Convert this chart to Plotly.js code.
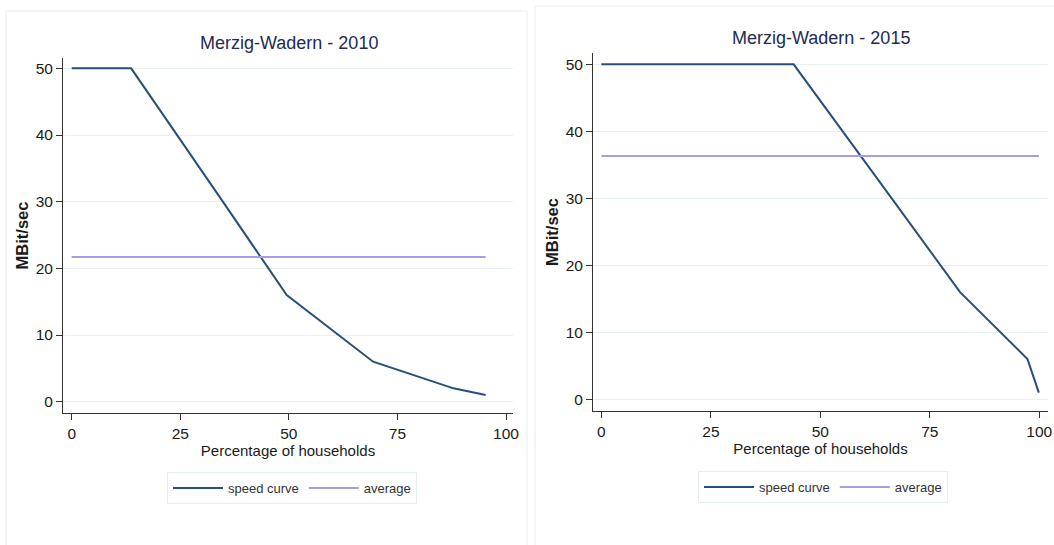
<!DOCTYPE html>
<html>
<head>
<meta charset="utf-8">
<script src="https://cdn.plot.ly/plotly-3.0.1.min.js"></script>
<style>
  html, body { margin: 0; padding: 0; background: #ffffff; }
  #chart { width: 1054px; height: 545px; }
</style>
</head>
<body>
<div id="chart"></div>
<script>
// Share of households (%) reaching at least the given download speed
const speedLevels = [50, 50, 30, 16, 6, 2, 1];

const pct2010 = [0, 13.7, 34.8, 49.5, 69.4, 87.9, 95.3];
const avg2010 = 21.7;

const pct2015 = [0, 43.9, 66.3, 81.9, 97.3, 99.5, 99.9];
const avg2015 = 36.3;

const xTicks = [0, 25, 50, 75, 100];
const yTicks = [0, 10, 20, 30, 40, 50];

const W = 1054, H = 545;
const px = v => v / W;
const py = v => 1 - v / H;

const curveColor = '#284f7a';
const avgColor = '#a69ee3';
const gridColor = '#e6eff2';
const sans = '"Liberation Sans", Arial, sans-serif';

function curveTrace(x, y, xa, ya, legend) {
  return {
    x: x, y: y, xaxis: xa, yaxis: ya, type: 'scatter', mode: 'lines',
    name: 'speed curve', legend: legend, showlegend: true,
    line: { color: curveColor, width: 2 }, hoverinfo: 'x+y'
  };
}
function avgTrace(x, avg, xa, ya, legend) {
  return {
    x: [x[0], x[x.length - 1]], y: [avg, avg], xaxis: xa, yaxis: ya,
    type: 'scatter', mode: 'lines', name: 'average', legend: legend,
    showlegend: true, line: { color: avgColor, width: 2 }, hoverinfo: 'y'
  };
}

const data = [
  curveTrace(pct2010, speedLevels, 'x', 'y', 'legend'),
  avgTrace(pct2010, avg2010, 'x', 'y', 'legend'),
  curveTrace(pct2015, speedLevels, 'x2', 'y2', 'legend2'),
  avgTrace(pct2015, avg2015, 'x2', 'y2', 'legend2')
];

function xAxis(domain, range, anchor) {
  return {
    domain: domain, range: range, anchor: anchor,
    tickvals: xTicks, ticktext: xTicks.map(String),
    ticks: 'outside', ticklen: 6, tickwidth: 1, tickcolor: '#333',
    showline: true, linecolor: '#333', linewidth: 1,
    showgrid: false, zeroline: false,
    tickfont: { family: sans, size: 15.5, color: '#1a1a1a' },
    title: { text: 'Percentage of households', standoff: 2,
             font: { family: sans, size: 15, color: '#1a1a1a' } }
  };
}
function yAxis(domain, range, anchor) {
  return {
    domain: domain, range: range, anchor: anchor,
    tickvals: yTicks, ticktext: yTicks.map(String),
    ticks: 'outside', ticklen: 6, tickwidth: 1, tickcolor: '#333',
    showline: true, linecolor: '#333', linewidth: 1,
    showgrid: true, gridcolor: gridColor, gridwidth: 1, zeroline: false,
    tickfont: { family: sans, size: 15.5, color: '#1a1a1a' },
    title: { text: 'MBit/sec', standoff: 2,
             font: { family: sans, size: 16.5, color: '#1a1a1a', weight: 'bold' } }
  };
}

function legendBox(left, top) {
  return {
    orientation: 'h', x: px(left), y: py(top), xanchor: 'left', yanchor: 'top',
    bgcolor: '#ffffff', bordercolor: '#e4eef1', borderwidth: 1,
    itemwidth: 50,
    font: { family: sans, size: 13, color: '#333333' },
    itemclick: false, itemdoubleclick: false, tracegroupgap: 0
  };
}

const layout = {
  width: W, height: H,
  margin: { l: 0, r: 0, t: 0, b: 0 },
  paper_bgcolor: '#ffffff', plot_bgcolor: '#ffffff',
  showlegend: true,
  xaxis: xAxis([px(63), px(513)], [-2.0, 101.6], 'y'),
  yaxis: yAxis([py(413), py(58)], [-1.7, 51.55], 'x'),
  xaxis2: xAxis([px(593), px(1048)], [-1.92, 101.99], 'y2'),
  yaxis2: yAxis([py(411), py(53)], [-1.75, 51.69], 'x2'),
  legend: legendBox(167, 472),
  legend2: legendBox(698, 471),
  annotations: [
    { text: 'Merzig-Wadern - 2010', xref: 'paper', yref: 'paper',
      x: px(289), y: py(43), xanchor: 'center', yanchor: 'middle', showarrow: false,
      font: { family: sans, size: 18, color: '#1e2b55' } },
    { text: 'Merzig-Wadern - 2015', xref: 'paper', yref: 'paper',
      x: px(821), y: py(38), xanchor: 'center', yanchor: 'middle', showarrow: false,
      font: { family: sans, size: 18, color: '#1e2b55' } }
  ],
  shapes: [
    // outer frames of the two graph regions
    { type: 'rect', xref: 'paper', yref: 'paper', x0: px(6), x1: px(527), y0: py(560), y1: py(11),
      line: { color: '#e4eef1', width: 1 }, layer: 'below' },
    { type: 'rect', xref: 'paper', yref: 'paper', x0: px(535), x1: px(1070), y0: py(560), y1: py(6),
      line: { color: '#e4eef1', width: 1 }, layer: 'below' }
  ]
};

Plotly.newPlot('chart', data, layout, { displayModeBar: false, staticPlot: true });
</script>
</body>
</html>
